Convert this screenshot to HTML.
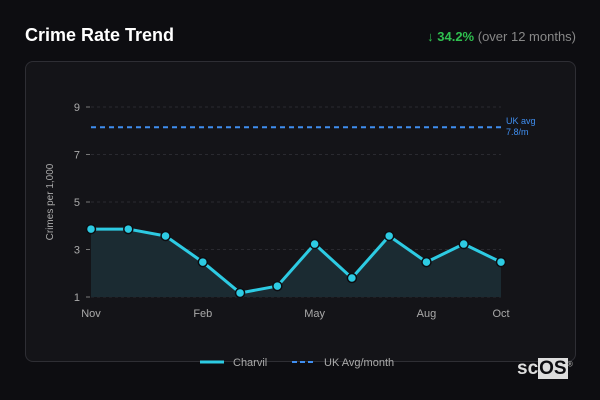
<!DOCTYPE html>
<html><head><meta charset="utf-8"><style>
body{margin:0;width:600px;height:400px;background:#0d0d11;font-family:"Liberation Sans","DejaVu Sans",sans-serif;overflow:hidden;position:relative}
.t{position:absolute;left:25px;top:25px;color:#fff;font-weight:bold;font-size:18px}
.ch{position:absolute;right:24px;top:29px;font-size:13px;color:#888}
.ch b{color:#2fbf4f}
.panel{position:absolute;left:25px;top:61px;width:549px;height:299px;border:1px solid #2e2e34;border-radius:8px;background:#141418}
svg{position:absolute;left:0;top:0}
.logo{position:absolute;left:517px;top:358px;color:#ddd;font-weight:bold;font-size:19px}
.logo span{background:#ddd;color:#0d0d11;padding:0 1px}
</style></head><body>
<div class="t">Crime Rate Trend</div>
<div class="ch"><b>↓ 34.2%</b> (over 12 months)</div>
<div class="panel"></div>
<svg id="c" width="600" height="400"></svg>
<div class="logo">sc<span>OS</span><sup style="font-size:7px;color:#aaa">®</sup></div>
<script>
const months=["Nov","Dec","Jan","Feb","Mar","Apr","May","Jun","Jul","Aug","Sep","Oct"];
const values=[3.86,3.86,3.57,2.47,1.17,1.46,3.23,1.8,3.57,2.47,3.23,2.47];
const ukAvg=8.15;
const yTicks=[1,3,5,7,9];
const xLabelIdx=[0,3,6,9,11];
const NS="http://www.w3.org/2000/svg",svg=document.getElementById('c');
const X=i=>91+i*(410/(months.length-1)), Y=v=>297-(v-1)*23.75;
function el(t,a,p){const e=document.createElementNS(NS,t);for(const k in a)e.setAttribute(k,a[k]);(p||svg).appendChild(e);return e;}
yTicks.forEach(v=>{
 const g=el('line',{x1:91,x2:501,y1:Y(v),y2:Y(v),stroke:'#2a2a30','stroke-dasharray':'3,3'});
 
 
 el('line',{x1:86,x2:90,y1:Y(v),y2:Y(v),stroke:'#777'});
 const t=el('text',{x:80,y:Y(v)+4,'text-anchor':'end',fill:'#aaa','font-size':11});t.textContent=v;
 
 
});
xLabelIdx.forEach(i=>{const t=el('text',{x:X(i),y:317,'text-anchor':'middle',fill:'#aaa','font-size':11});t.textContent=months[i];
 
 });
const yt=el('text',{transform:'translate(53,202) rotate(-90)','text-anchor':'middle',fill:'#aaa','font-size':10});yt.textContent='Crimes per 1,000';


const pts=values.map((v,i)=>X(i)+','+Y(v)).join(' ');
const area=el('polygon',{points:X(0)+','+Y(1)+' '+pts+' '+X(values.length-1)+','+Y(1),fill:'#1b2b32'});


const uk=el('line',{x1:91,x2:501,y1:Y(ukAvg),y2:Y(ukAvg),stroke:'#3f8ef0','stroke-width':2,'stroke-dasharray':'5,4'});


const ul=el('text',{x:506,y:Y(ukAvg)-3,fill:'#3f8ef0','font-size':9});ul.textContent='UK avg';


const ul2=el('text',{x:506,y:Y(ukAvg)+8,fill:'#3f8ef0','font-size':9});ul2.textContent='7.8/m';


const ln=el('polyline',{points:pts,fill:'none',stroke:'#2dcbe3','stroke-width':3,'stroke-linejoin':'round'});


values.forEach((v,i)=>{const c=el('circle',{cx:X(i),cy:Y(v),r:4.5,fill:'#2dcbe3',stroke:'#0d0d11','stroke-width':1.5});
 
 });
const l1=el('line',{x1:200,x2:224,y1:362,y2:362,stroke:'#2dcbe3','stroke-width':3});


const lt1=el('text',{x:233,y:366,fill:'#aaa','font-size':11});lt1.textContent='Charvil';


const l2=el('line',{x1:292,x2:316,y1:362,y2:362,stroke:'#3f8ef0','stroke-width':2,'stroke-dasharray':'5,3'});


const lt2=el('text',{x:324,y:366,fill:'#aaa','font-size':11});lt2.textContent='UK Avg/month';


</script>
</body></html>
